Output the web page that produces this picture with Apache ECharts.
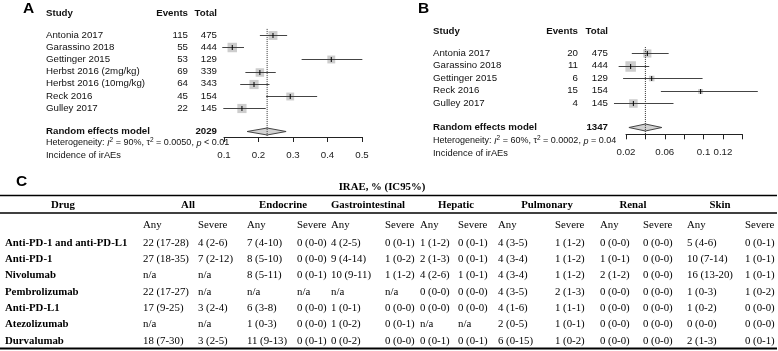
<!DOCTYPE html>
<html>
<head>
<meta charset="utf-8">
<script src="https://cdn.jsdelivr.net/npm/echarts@6/dist/echarts.min.js"></script>
<style>
html, body { margin: 0; padding: 0; background: #fff; }
#main { width: 778px; height: 351px; }
</style>
</head>
<body>
<div id="main"></div>
<script>
// ---- panel A: any-grade irAEs ----
var studiesA = ['Antonia 2017', 'Garassino 2018', 'Gettinger 2015', 'Herbst 2016 (2mg/kg)', 'Herbst 2016 (10mg/kg)', 'Reck 2016', 'Gulley 2017'];
var eventsA = [115, 55, 53, 69, 64, 45, 22];
var totalA = [475, 444, 129, 339, 343, 154, 145];
var estA = [0.242, 0.124, 0.411, 0.204, 0.187, 0.292, 0.152];
var lowA = [0.204, 0.095, 0.325, 0.162, 0.147, 0.222, 0.098];
var highA = [0.283, 0.158, 0.501, 0.250, 0.232, 0.370, 0.221];
var weightA = [14.8, 16.9, 11.6, 13.5, 15.8, 11.6, 15.8];
var pooledA = [0.167, 0.225, 0.280]; // low, estimate, high
var pooledTotalA = 2029;
var ticksA = ['0.1', '0.2', '0.3', '0.4', '0.5'];

// ---- panel B: severe irAEs ----
var studiesB = ['Antonia 2017', 'Garassino 2018', 'Gettinger 2015', 'Reck 2016', 'Gulley 2017'];
var eventsB = [20, 11, 6, 15, 4];
var totalB = [475, 444, 129, 154, 145];
var estB = [0.042, 0.0248, 0.0465, 0.097, 0.0276];
var lowB = [0.026, 0.0124, 0.017, 0.056, 0.0076];
var highB = [0.064, 0.044, 0.099, 0.156, 0.069];
var weightB = [21.8, 36.2, 10.3, 7.9, 23.9];
var pooledB = [0.023, 0.040, 0.057];
var pooledTotalB = 1347;
var ticksB = ['0.02', '0.06', '0.1', '0.12'];

// ---- panel C: table ----
var drugs = ['Anti-PD-1 and anti-PD-L1', 'Anti-PD-1', 'Nivolumab', 'Pembrolizumab', 'Anti-PD-L1', 'Atezolizumab', 'Durvalumab'];
var organs = ['All', 'Endocrine', 'Gastrointestinal', 'Hepatic', 'Pulmonary', 'Renal', 'Skin'];
var rowAntiPD1L1 = ['22 (17-28)', '4 (2-6)', '7 (4-10)', '0 (0-0)', '4 (2-5)', '0 (0-1)', '1 (1-2)', '0 (0-1)', '4 (3-5)', '1 (1-2)', '0 (0-0)', '0 (0-0)', '5 (4-6)', '0 (0-1)'];
var rowAntiPD1 = ['27 (18-35)', '7 (2-12)', '8 (5-10)', '0 (0-0)', '9 (4-14)', '1 (0-2)', '2 (1-3)', '0 (0-1)', '4 (3-4)', '1 (1-2)', '1 (0-1)', '0 (0-0)', '10 (7-14)', '1 (0-1)'];
var rowNivolumab = ['n/a', 'n/a', '8 (5-11)', '0 (0-1)', '10 (9-11)', '1 (1-2)', '4 (2-6)', '1 (0-1)', '4 (3-4)', '1 (1-2)', '2 (1-2)', '0 (0-0)', '16 (13-20)', '1 (0-1)'];
var rowPembrolizumab = ['22 (17-27)', 'n/a', 'n/a', 'n/a', 'n/a', 'n/a', '0 (0-0)', '0 (0-0)', '4 (3-5)', '2 (1-3)', '0 (0-0)', '0 (0-0)', '1 (0-3)', '1 (0-2)'];
var rowAntiPDL1 = ['17 (9-25)', '3 (2-4)', '6 (3-8)', '0 (0-0)', '1 (0-1)', '0 (0-0)', '0 (0-0)', '0 (0-0)', '4 (1-6)', '1 (1-1)', '0 (0-0)', '0 (0-0)', '1 (0-2)', '0 (0-0)'];
var rowAtezolizumab = ['n/a', 'n/a', '1 (0-3)', '0 (0-0)', '1 (0-2)', '0 (0-1)', 'n/a', 'n/a', '2 (0-5)', '1 (0-1)', '0 (0-0)', '0 (0-0)', '0 (0-0)', '0 (0-0)'];
var rowDurvalumab = ['18 (7-30)', '3 (2-5)', '11 (9-13)', '0 (0-1)', '0 (0-2)', '0 (0-0)', '0 (0-1)', '0 (0-1)', '6 (0-15)', '1 (0-2)', '0 (0-0)', '0 (0-0)', '2 (1-3)', '0 (0-1)'];
var tableRows = [rowAntiPD1L1, rowAntiPD1, rowNivolumab, rowPembrolizumab, rowAntiPDL1, rowAtezolizumab, rowDurvalumab];

// layout
var SANS = 'Liberation Sans';
var SERIF = 'Liberation Serif';
var INK = '#111';
var colX = [143, 198, 247, 297, 331, 385, 420, 458, 498, 555, 600, 643, 687, 745];
var organX = [188, 283, 368, 456, 547, 633, 720];

function boxSizes(w, maxSize) {
    var maxW = Math.max.apply(null, w);
    return w.map(function (v) { return maxSize * Math.sqrt(v / maxW); });
}

function studyData(est, low, high, w, maxSize) {
    var sizes = boxSizes(w, maxSize);
    return est.map(function (e, i) { return [e, i + 1, low[i], high[i], sizes[i]]; });
}

function renderStudy(params, api) {
    var row = api.value(1);
    var p = api.coord([api.value(0), row]);
    var l = api.coord([api.value(2), row]);
    var h = api.coord([api.value(3), row]);
    var s = api.value(4);
    var y = Math.round(p[1]) + 0.5;
    return {
        type: 'group',
        children: [
            { type: 'rect', shape: { x: p[0] - s / 2, y: y - s / 2, width: s, height: s }, style: { fill: '#cdcdcd' } },
            { type: 'line', shape: { x1: l[0], y1: y, x2: h[0], y2: y }, style: { stroke: '#444', lineWidth: 1 } },
            { type: 'line', shape: { x1: p[0], y1: y - 2.5, x2: p[0], y2: y + 2.5 }, style: { stroke: '#000', lineWidth: 1 } }
        ]
    };
}

function renderDiamond(params, api) {
    var row = api.value(3);
    var l = api.coord([api.value(0), row]);
    var m = api.coord([api.value(1), row]);
    var h = api.coord([api.value(2), row]);
    var y = Math.round(m[1]) + 0.5;
    return {
        type: 'polygon',
        shape: { points: [[l[0], y], [m[0], y - 3.5], [h[0], y], [m[0], y + 3.5]] },
        style: { fill: '#d2d2d2', stroke: '#444', lineWidth: 1 }
    };
}

function labelRenderer(names, events, totals, xs) {
    return function (params, api) {
        var i = params.dataIndex;
        var y = api.coord([api.value(0), api.value(1)])[1];
        var base = { fontFamily: SANS, fontSize: 9.7, fill: INK, verticalAlign: 'middle' };
        return {
            type: 'group',
            children: [
                { type: 'text', x: xs[0], y: y, style: Object.assign({ text: names[i], align: 'left' }, base) },
                { type: 'text', x: xs[1], y: y, style: Object.assign({ text: String(events[i]), align: 'right' }, base) },
                { type: 'text', x: xs[2], y: y, style: Object.assign({ text: String(totals[i]), align: 'right' }, base) }
            ]
        };
    };
}

function renderTableRow(params, api) {
    var i = params.dataIndex;
    var y = api.coord([0, i])[1];
    var kids = [{
        type: 'text', x: api.coord([5, i])[0], y: y,
        style: { text: drugs[i], fontFamily: SERIF, fontWeight: 'bold', fontSize: 10.8, fill: '#000', align: 'left', verticalAlign: 'middle' }
    }];
    tableRows[i].forEach(function (v, j) {
        kids.push({
            type: 'text', x: api.coord([colX[j], i])[0], y: y,
            style: { text: v, fontFamily: SERIF, fontSize: 10.8, fill: '#000', align: 'left', verticalAlign: 'middle' }
        });
    });
    return { type: 'group', children: kids };
}

function tickFormatter(list) {
    return function (v) {
        var s = String(+v.toFixed(2));
        return list.indexOf(s) >= 0 ? s : '';
    };
}

function forestX(grid, min, max, interval, list) {
    return {
        gridIndex: grid, type: 'value', min: min, max: max, interval: interval,
        axisLine: { show: true, onZero: false, lineStyle: { color: '#222', width: 1 } },
        axisTick: { show: true, length: 5, lineStyle: { color: '#222' } },
        axisLabel: { show: true, margin: 13, fontFamily: SANS, fontSize: 9.7, color: '#222', formatter: tickFormatter(list), showMinLabel: true, showMaxLabel: true },
        splitLine: { show: false }
    };
}

function txt(x, y, text, opts) {
    return {
        type: 'text', x: x, y: y, silent: true,
        style: Object.assign({ text: text, fontFamily: SANS, fontSize: 9.7, fill: INK, align: 'left', verticalAlign: 'middle' }, opts || {})
    };
}

function hetText(x, y, i2, tau2, pOp, pVal) {
    return txt(x, y, 'Heterogeneity: {it|I}{sup|2} = ' + i2 + ', τ{sup|2} = ' + tau2 + ', {it|p} ' + pOp + ' ' + pVal, {
        fontSize: 9, lineHeight: 12,
        rich: {
            it: { fontStyle: 'italic', fontFamily: SANS, fontSize: 9, fill: INK },
            sup: { fontFamily: SANS, fontSize: 6.5, fill: INK, verticalAlign: 'top', lineHeight: 12 }
        }
    });
}

var bold = { fontWeight: 'bold' };

var graphics = [
    // panel A headers
    txt(23, 9, 'A', { fontSize: 15.5, fontWeight: 'bold', fill: '#000' }),
    txt(46, 13, 'Study', bold),
    txt(188, 13, 'Events', { fontWeight: 'bold', align: 'right' }),
    txt(217, 13, 'Total', { fontWeight: 'bold', align: 'right' }),
    txt(46, 131, 'Random effects model', bold),
    txt(217, 131, String(pooledTotalA), { fontWeight: 'bold', align: 'right' }),
    hetText(46, 143, '90%', '0.0050', '<', '0.01'),
    txt(46, 155, 'Incidence of irAEs', { fontSize: 9.3 }),
    // panel B headers
    txt(418, 9, 'B', { fontSize: 15.5, fontWeight: 'bold', fill: '#000' }),
    txt(433, 31, 'Study', bold),
    txt(578, 31, 'Events', { fontWeight: 'bold', align: 'right' }),
    txt(608, 31, 'Total', { fontWeight: 'bold', align: 'right' }),
    txt(433, 127, 'Random effects model', bold),
    txt(608, 127, String(pooledTotalB), { fontWeight: 'bold', align: 'right' }),
    hetText(433, 141, '60%', '0.0002', '=', '0.04'),
    txt(433, 153, 'Incidence of irAEs', { fontSize: 9.3 }),
    // panel C frame
    txt(16, 182, 'C', { fontSize: 15.5, fontWeight: 'bold', fill: '#000' }),
    txt(382, 187, 'IRAE, % (IC95%)', { fontFamily: SERIF, fontWeight: 'bold', fontSize: 10.8, fill: '#000', align: 'center' }),
    { type: 'line', silent: true, shape: { x1: 0, y1: 195.5, x2: 777, y2: 195.5 }, style: { stroke: '#000', lineWidth: 1.6 } },
    { type: 'line', silent: true, shape: { x1: 0, y1: 213, x2: 777, y2: 213 }, style: { stroke: '#000', lineWidth: 1.3 } },
    { type: 'line', silent: true, shape: { x1: 0, y1: 348.5, x2: 777, y2: 348.5 }, style: { stroke: '#000', lineWidth: 2 } },
    txt(63, 205, 'Drug', { fontFamily: SERIF, fontWeight: 'bold', fontSize: 10.8, fill: '#000', align: 'center' })
];
organs.forEach(function (o, k) {
    graphics.push(txt(organX[k], 205, o, { fontFamily: SERIF, fontWeight: 'bold', fontSize: 10.8, fill: '#000', align: 'center' }));
});
colX.forEach(function (x, j) {
    graphics.push(txt(x, 225, j % 2 === 0 ? 'Any' : 'Severe', { fontFamily: SERIF, fontSize: 10.8, fill: '#000' }));
});

var option = {
    animation: false,
    backgroundColor: '#fff',
    grid: [
        { left: 224, top: 22.8, width: 138, height: 114.2 },
        { left: 626, top: 40.8, width: 116.3, height: 93.5 },
        { left: 0, top: 234.85, width: 778, height: 114.1 }
    ],
    xAxis: [
        forestX(0, 0.1, 0.5, 0.1, ticksA),
        forestX(1, 0.02, 0.14, 0.02, ticksB),
        { gridIndex: 2, type: 'value', min: 0, max: 778, show: false }
    ],
    yAxis: [
        { gridIndex: 0, type: 'value', min: 0, max: 9.36, inverse: true, show: false },
        { gridIndex: 1, type: 'value', min: 0, max: 7.48, inverse: true, show: false },
        { gridIndex: 2, type: 'category', data: drugs, inverse: true, show: false }
    ],
    graphic: graphics,
    series: [
        {
            type: 'line', xAxisIndex: 0, yAxisIndex: 0, symbol: 'none', silent: true,
            data: [[pooledA[1], 0.5], [pooledA[1], 9.36]],
            lineStyle: { type: 'dotted', color: '#333', width: 1 }
        },
        {
            type: 'custom', xAxisIndex: 0, yAxisIndex: 0, silent: true,
            renderItem: renderStudy, data: studyData(estA, lowA, highA, weightA, 9.5)
        },
        {
            type: 'custom', xAxisIndex: 0, yAxisIndex: 0, silent: true,
            renderItem: renderDiamond, data: [[pooledA[0], pooledA[1], pooledA[2], 8.87]]
        },
        {
            type: 'custom', xAxisIndex: 0, yAxisIndex: 0, silent: true,
            renderItem: labelRenderer(studiesA, eventsA, totalA, [46, 188, 217]),
            data: studiesA.map(function (s, i) { return [0.1, i + 1]; })
        },
        {
            type: 'line', xAxisIndex: 1, yAxisIndex: 1, symbol: 'none', silent: true,
            data: [[pooledB[1], 0.5], [pooledB[1], 7.48]],
            lineStyle: { type: 'dotted', color: '#333', width: 1 }
        },
        {
            type: 'custom', xAxisIndex: 1, yAxisIndex: 1, silent: true,
            renderItem: renderStudy, data: studyData(estB, lowB, highB, weightB, 10.5)
        },
        {
            type: 'custom', xAxisIndex: 1, yAxisIndex: 1, silent: true,
            renderItem: renderDiamond, data: [[pooledB[0], pooledB[1], pooledB[2], 6.9]]
        },
        {
            type: 'custom', xAxisIndex: 1, yAxisIndex: 1, silent: true,
            renderItem: labelRenderer(studiesB, eventsB, totalB, [433, 578, 608]),
            data: studiesB.map(function (s, i) { return [0.02, i + 1]; })
        },
        {
            type: 'custom', xAxisIndex: 2, yAxisIndex: 2, silent: true,
            renderItem: renderTableRow,
            data: drugs.map(function (d, i) { return [0, i]; })
        }
    ]
};

var chart = echarts.init(document.getElementById('main'));
chart.setOption(option);
</script>
</body>
</html>
